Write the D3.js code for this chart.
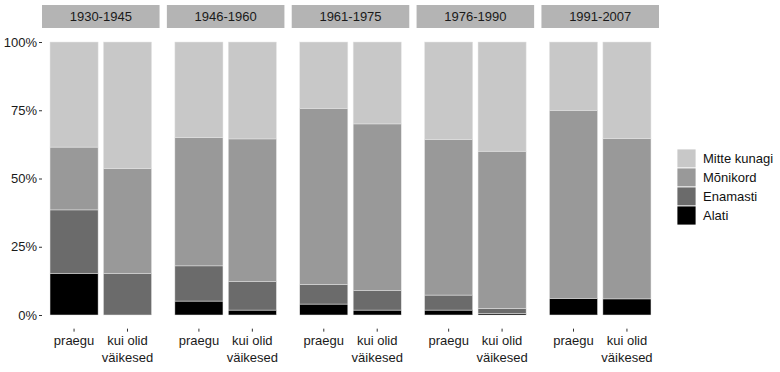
<!DOCTYPE html>
<html>
<head>
<meta charset="utf-8">
<script src="https://cdn.jsdelivr.net/npm/d3@7"></script>
<style>
  body { margin: 0; background: #fff; }
  svg { font-family: "Liberation Sans", Arial, sans-serif; }
  .tick line { stroke: #333; }
  .tick text { fill: #1a1a1a; font-size: 13px; }
</style>
</head>
<body>
<svg width="780" height="372"></svg>
<script>
//Periods (facets) and groups within each
var periods = ["1930-1945", "1946-1960", "1961-1975", "1976-1990", "1991-2007"];
var groups = ["praegu", "kui olid väikesed"];

//Answer categories, bottom to top in the stack
var categories = ["Alati", "Enamasti", "Mõnikord", "Mitte kunagi"];
var catColors = ["#000000", "#6b6b6b", "#999999", "#c8c8c8"];

//Shares in percent, order: period 1 praegu, period 1 kui olid, period 2 praegu ...
var alati    = [15.3, 0.0, 5.1, 1.8, 4.0, 1.8, 1.8, 0.6, 6.1, 5.9];
var enamasti = [23.2, 15.3, 12.9, 10.4, 7.2, 7.1, 5.5, 1.8, 0.0, 0.0];
var monikord = [23.0, 38.4, 47.0, 52.3, 64.5, 61.1, 57.0, 57.6, 68.9, 58.8];
var mitte    = [38.5, 46.3, 35.0, 35.5, 24.3, 30.0, 35.7, 40.0, 25.0, 35.3];

var yTicks = [0, 0.25, 0.5, 0.75, 1];

//Build rows for the stack
var rows = [];
periods.forEach(function(p, i){
    groups.forEach(function(g, j){
        var k = i * 2 + j;
        rows.push({period: p, group: g,
            "Alati": alati[k] / 100, "Enamasti": enamasti[k] / 100,
            "Mõnikord": monikord[k] / 100, "Mitte kunagi": mitte[k] / 100});
    });
});
var series = d3.stack().keys(categories)(rows);

var svg = d3.select("svg");

//Plot area
var left = 42, right = 659, gap = 7.3;
var stripTop = 5, stripH = 23;
var pw = (right - left - gap * (periods.length - 1)) / periods.length;

var y = d3.scaleLinear().domain([0, 1]).range([315, 42]);
var yBottom = y(-0.05);

var color = d3.scaleOrdinal().domain(categories).range(catColors);

//Y axis
svg.append("g")
    .attr("transform", "translate(" + left + ",0)")
    .call(d3.axisLeft(y).tickValues(yTicks).tickSize(3).tickPadding(2).tickFormat(d3.format(".0%")))
    .call(function(g){ g.select(".domain").remove(); });

periods.forEach(function(p, i){
    var x0 = left + i * (pw + gap);
    var panel = svg.append("g").attr("transform", "translate(" + x0 + ",0)");

    //Strip header
    panel.append("rect")
        .attr("x", 0).attr("y", stripTop)
        .attr("width", pw).attr("height", stripH)
        .style("fill", "#b4b4b4");
    panel.append("text")
        .attr("x", pw / 2).attr("y", stripTop + stripH / 2 + 4.5)
        .attr("text-anchor", "middle")
        .style("font-size", "13px").style("fill", "#1a1a1a")
        .text(p);

    var x = d3.scaleBand().domain(groups).range([0, pw])
        .paddingInner(0.1).paddingOuter(0.15);

    //Stacked bars
    series.forEach(function(s){
        panel.selectAll(null)
            .data(s.filter(function(d){ return d.data.period === p; }))
            .enter().append("rect")
            .attr("x", function(d){ return x(d.data.group); })
            .attr("width", x.bandwidth())
            .attr("y", function(d){ return y(d[1]); })
            .attr("height", function(d){ return y(d[0]) - y(d[1]); })
            .style("fill", color(s.key))
            .style("stroke", "#e6e6e6")
            .style("stroke-width", 0.5);
    });

    //X axis with wrapped labels
    var xa = panel.append("g")
        .attr("transform", "translate(0," + yBottom + ")")
        .call(d3.axisBottom(x).tickSize(3).tickPadding(4.5));
    xa.select(".domain").remove();
    xa.selectAll(".tick text").each(function(d){
        var t = d3.select(this).text("");
        var lines = d === "kui olid väikesed" ? ["kui olid", "väikesed"] : [d];
        lines.forEach(function(l, li){
            t.append("tspan").attr("x", 0).attr("dy", li === 0 ? "0.71em" : "1.27em").text(l);
        });
    });
});

//Legend
var legend = svg.append("g").attr("transform", "translate(677,149)");
categories.slice().reverse().forEach(function(c, i){
    legend.append("rect")
        .attr("x", 0).attr("y", i * 19)
        .attr("width", 19).attr("height", 19)
        .style("fill", color(c))
        .style("stroke", "#fff").style("stroke-width", 0.8);
    legend.append("text")
        .attr("x", 26).attr("y", i * 19 + 14)
        .style("font-size", "13px").style("fill", "#111")
        .text(c);
});
</script>
</body>
</html>
